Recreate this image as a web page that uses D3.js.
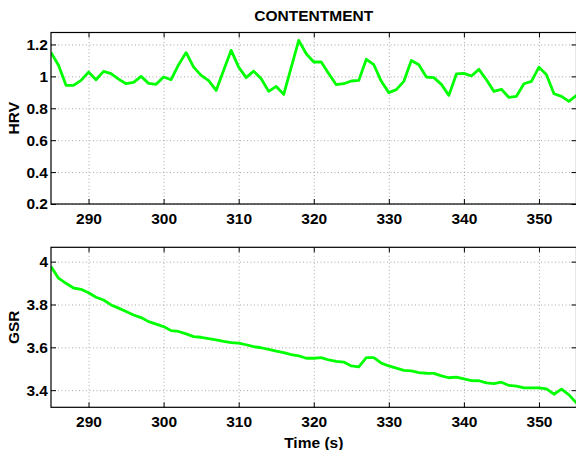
<!DOCTYPE html>
<html>
<head>
<meta charset="utf-8">
<script src="https://cdn.jsdelivr.net/npm/d3@7"></script>
<style>
  body { margin: 0; background: #fff; }
  text { font-family: "Liberation Sans", Arial, sans-serif; font-weight: bold; }
</style>
</head>
<body>
<div id="chart"></div>
<script>
// time axis, 1 s samples from 285 to 355
var timeStart = 285;
var timeTicks = [290, 300, 310, 320, 330, 340, 350];

var hrvValues = [
  1.15, 1.07, 0.944, 0.944, 0.975, 1.027, 0.979, 1.031, 1.017, 0.983,
  0.954, 0.962, 1.0, 0.956, 0.95, 0.996, 0.979, 1.073, 1.149, 1.058,
  1.006, 0.973, 0.912, 1.038, 1.163, 1.058, 0.992, 1.033, 0.985, 0.906,
  0.937, 0.887, 1.057, 1.226, 1.142, 1.09, 1.09, 1.017, 0.948, 0.954,
  0.971, 0.975, 1.107, 1.073, 0.969, 0.898, 0.917, 0.969, 1.10, 1.073,
  0.996, 0.992, 0.95, 0.881, 1.015, 1.019, 1.002, 1.044, 0.979, 0.906,
  0.919, 0.868, 0.875, 0.954, 0.969, 1.058, 1.01, 0.891, 0.875, 0.843,
  0.881
];
var hrvTicks = [0.2, 0.4, 0.6, 0.8, 1, 1.2];

var gsrValues = [
  3.977, 3.923, 3.899, 3.877, 3.871, 3.855, 3.834, 3.821, 3.798, 3.783,
  3.767, 3.751, 3.739, 3.720, 3.708, 3.697, 3.678, 3.674, 3.663, 3.650,
  3.647, 3.641, 3.635, 3.628, 3.622, 3.620, 3.612, 3.603, 3.598, 3.590,
  3.582, 3.575, 3.566, 3.560, 3.549, 3.549, 3.552, 3.541, 3.534, 3.531,
  3.513, 3.509, 3.552, 3.552, 3.526, 3.513, 3.503, 3.492, 3.490, 3.482,
  3.479, 3.478, 3.467, 3.458, 3.461, 3.453, 3.445, 3.444, 3.434, 3.431,
  3.437, 3.422, 3.419, 3.411, 3.411, 3.411, 3.406, 3.381, 3.405, 3.378,
  3.340
];
var gsrTicks = [3.4, 3.6, 3.8, 4];

var width = 576, height = 450;
var left = 51, right = 576.5;

var svg = d3.select("#chart").append("svg")
    .attr("width", width)
    .attr("height", height);

var x = d3.scaleLinear().domain([285, 355]).range([left, right]);

var fmt = function(d) { return String(+d.toFixed(1)); };

function panel(id, values, yDomain, yTicks, top, bottom, ylabel, showXLabel) {
  var y = d3.scaleLinear().domain(yDomain).range([bottom, top]);
  var w = right - left, h = bottom - top;
  var g = svg.append("g");

  // dotted grid
  g.append("g")
      .attr("transform", "translate(0," + bottom + ")")
      .call(d3.axisBottom(x).tickValues(timeTicks).tickSize(-h).tickFormat(""))
      .call(function(s) { s.select(".domain").remove(); });
  g.append("g")
      .attr("transform", "translate(" + left + ",0)")
      .call(d3.axisLeft(y).tickValues(yTicks).tickSize(-w).tickFormat(""))
      .call(function(s) { s.select(".domain").remove(); });
  g.selectAll(".tick line")
      .attr("stroke", "#a8a8a8")
      .attr("stroke-width", 1)
      .attr("stroke-dasharray", "1,2.5");

  // data line
  svg.append("clipPath").attr("id", "clip-" + id)
    .append("rect").attr("x", left).attr("y", top).attr("width", w).attr("height", h);

  var line = d3.line()
      .x(function(d, i) { return x(timeStart + i); })
      .y(function(d) { return y(d); });

  g.append("path")
      .datum(values)
      .attr("clip-path", "url(#clip-" + id + ")")
      .attr("fill", "none")
      .attr("stroke", "#00ff00")
      .attr("stroke-width", 2.8)
      .attr("stroke-linejoin", "round")
      .attr("d", line);

  // axes with inward ticks on all sides
  var ax = function(sel) {
    sel.select(".domain").remove();
    sel.selectAll(".tick line").attr("stroke", "#000");
    sel.selectAll(".tick text").attr("fill", "#000").style("font-size", "15.5px").style("font-weight", "bold");
  };
  g.append("g")
      .attr("transform", "translate(0," + bottom + ")")
      .call(d3.axisBottom(x).tickValues(timeTicks).tickSizeInner(-5).tickSizeOuter(0).tickPadding(9).tickFormat(d3.format("d")))
      .call(ax);
  g.append("g")
      .attr("transform", "translate(0," + top + ")")
      .call(d3.axisTop(x).tickValues(timeTicks).tickSizeInner(-5).tickSizeOuter(0).tickFormat(""))
      .call(ax);
  g.append("g")
      .attr("transform", "translate(" + left + ",0)")
      .call(d3.axisLeft(y).tickValues(yTicks).tickSizeInner(-5).tickSizeOuter(0).tickPadding(3).tickFormat(fmt))
      .call(ax);
  g.append("g")
      .attr("transform", "translate(" + right + ",0)")
      .call(d3.axisRight(y).tickValues(yTicks).tickSizeInner(-5).tickSizeOuter(0).tickFormat(""))
      .call(ax);

  g.append("rect")
      .attr("x", left).attr("y", top)
      .attr("width", w).attr("height", h)
      .attr("fill", "none")
      .attr("stroke", "#000")
      .attr("stroke-width", 1.2);

  g.append("text")
      .attr("transform", "translate(14," + (top + h / 2) + ") rotate(-90)")
      .attr("text-anchor", "middle")
      .attr("dy", "0.35em")
      .style("font-size", "15.5px")
      .text(ylabel);

  if (showXLabel) {
    g.append("text")
      .attr("x", (left + right) / 2)
      .attr("y", 448)
      .attr("text-anchor", "middle")
      .style("font-size", "15.5px")
      .text("Time (s)");
  }
}

panel("hrv", hrvValues, [0.2, 1.275], hrvTicks, 32.5, 204, "HRV", false);
panel("gsr", gsrValues, [3.32, 4.067], gsrTicks, 247.3, 407.3, "GSR", true);

svg.append("text")
    .attr("x", (left + right) / 2)
    .attr("y", 21)
    .attr("text-anchor", "middle")
    .style("font-size", "15.5px")
    .text("CONTENTMENT");
</script>
</body>
</html>
